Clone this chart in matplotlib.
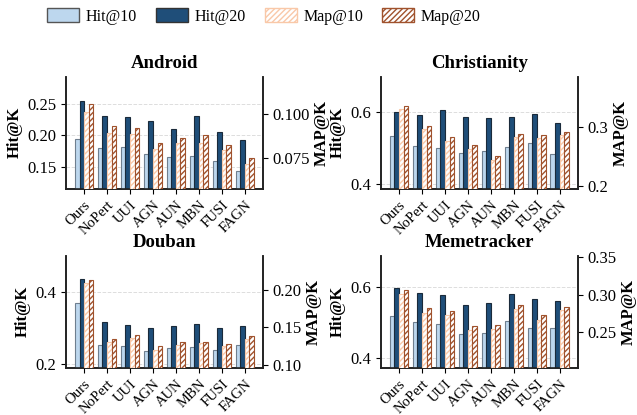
import numpy as np
import matplotlib
matplotlib.use("Agg")
import matplotlib.pyplot as plt
from matplotlib.patches import Patch

plt.rcParams['font.family'] = ['Liberation Serif', 'DejaVu Serif']
plt.rcParams['hatch.linewidth'] = 1.0

methods = ["Ours", "NoPert", "UUI", "AGN", "AUN", "MBN", "FUSI", "FAGN"]
datasets = ["Android", "Christianity", "Douban", "Memetracker"]

# Hit@10, Hit@20, MAP@10, MAP@20 per dataset
hit10 = {
    "Android":      [0.194, 0.180, 0.181, 0.170, 0.165, 0.167, 0.159, 0.143],
    "Christianity": [0.535, 0.508, 0.500, 0.486, 0.494, 0.505, 0.514, 0.485],
    "Douban":       [0.369, 0.253, 0.250, 0.237, 0.244, 0.247, 0.240, 0.253],
    "Memetracker":  [0.519, 0.501, 0.495, 0.467, 0.470, 0.504, 0.486, 0.486],
}
hit20 = {
    "Android":      [0.256, 0.232, 0.230, 0.224, 0.210, 0.231, 0.205, 0.193],
    "Christianity": [0.602, 0.593, 0.608, 0.587, 0.584, 0.587, 0.597, 0.570],
    "Douban":       [0.435, 0.316, 0.307, 0.301, 0.306, 0.311, 0.299, 0.306],
    "Memetracker":  [0.597, 0.582, 0.576, 0.549, 0.555, 0.580, 0.565, 0.561],
}
map10 = {
    "Android":      [0.1017, 0.0896, 0.0890, 0.0800, 0.0837, 0.0837, 0.0796, 0.0717],
    "Christianity": [0.330, 0.296, 0.275, 0.262, 0.244, 0.282, 0.281, 0.285],
    "Douban":       [0.2095, 0.130, 0.1356, 0.1198, 0.1266, 0.1284, 0.1248, 0.1342],
    "Memetracker":  [0.3014, 0.2757, 0.2725, 0.2523, 0.2536, 0.2806, 0.2658, 0.2793],
}
map20 = {
    "Android":      [0.1058, 0.0933, 0.0923, 0.0837, 0.0865, 0.0883, 0.0825, 0.0750],
    "Christianity": [0.334, 0.301, 0.283, 0.269, 0.250, 0.288, 0.286, 0.291],
    "Douban":       [0.214, 0.1342, 0.1396, 0.1248, 0.1306, 0.1306, 0.1270, 0.1378],
    "Memetracker":  [0.3063, 0.2815, 0.2784, 0.2577, 0.2595, 0.2860, 0.2725, 0.2829],
}

c_hit10 = '#bdd7ee'
c_hit20 = '#1f4e79'
c_map10 = '#f9c8a8'
c_map20 = '#a0522d'

fig, axes = plt.subplots(2, 2, figsize=(6.37, 4.15), dpi=100)
fig.subplots_adjust(left=0.1036, right=0.907, top=0.815, bottom=0.114,
                    wspace=0.6, hspace=0.6)

x = np.arange(len(methods))
w = 0.2

for ax, name in zip(axes.flat, datasets):
    h10 = np.array(hit10[name]); h20 = np.array(hit20[name])
    m10 = np.array(map10[name]); m20 = np.array(map20[name])

    # Hit bars on the left axis, MAP bars on a twin right axis
    ax2 = ax.twinx()
    ax.bar(x - 1.5 * w, h10, w, color=c_hit10, edgecolor='#6f7f8f', linewidth=0.8, zorder=3)
    ax.bar(x - 0.5 * w, h20, w, color=c_hit20, edgecolor='#1a2a3a', linewidth=0.8, zorder=3)
    ax2.bar(x + 0.5 * w, m10, w, color='white', edgecolor=c_map10, hatch='//////', linewidth=0.8, zorder=3)
    ax2.bar(x + 1.5 * w, m20, w, color='white', edgecolor=c_map20, hatch='//////', linewidth=0.8, zorder=3)

    ax.set_ylim(min(h10.min(), h20.min()) * 0.8, max(h10.max(), h20.max()) * 1.15)
    ax2.set_ylim(min(m10.min(), m20.min()) * 0.8, max(m10.max(), m20.max()) * 1.15)

    ax.yaxis.grid(True, linestyle='--', color='#dddddd', linewidth=0.7, zorder=0)
    ax.set_axisbelow(True)

    ax.set_title(name, fontsize=13.5, fontweight='bold', pad=6)
    ax.set_ylabel("Hit@K", fontsize=12, fontweight='bold', labelpad=3)
    ax2.set_ylabel("MAP@K", fontsize=12, fontweight='bold', labelpad=3)
    ax.set_xticks(x)
    ax.set_xticklabels(methods, rotation=45, ha='right', rotation_mode='anchor', fontsize=10.6)
    ax.tick_params(axis='y', labelsize=12)
    ax2.tick_params(axis='y', labelsize=12)

    for a in (ax, ax2):
        a.spines['top'].set_visible(False)
        for s in ('left', 'right', 'bottom'):
            a.spines[s].set_linewidth(1.2)
            a.spines[s].set_color('#222222')

    if name == "Android":
        ax.set_yticks([0.15, 0.20, 0.25])
        ax2.set_yticks([0.075, 0.100])
    elif name == "Christianity":
        ax.set_yticks([0.4, 0.6])
        ax2.set_yticks([0.2, 0.3])
    elif name == "Douban":
        ax.set_yticks([0.2, 0.4])
        ax2.set_yticks([0.10, 0.15, 0.20])
        ax2.set_yticklabels(["0.10", "0.15", "0.20"])
    else:
        ax.set_yticks([0.4, 0.6])
        ax2.set_yticks([0.25, 0.30, 0.35])
        ax2.set_yticklabels(["0.25", "0.30", "0.35"])

handles = [
    Patch(facecolor=c_hit10, edgecolor='#555555', label='Hit@10'),
    Patch(facecolor=c_hit20, edgecolor='#333333', label='Hit@20'),
    Patch(facecolor='white', edgecolor=c_map10, hatch='//////', label='Map@10'),
    Patch(facecolor='white', edgecolor=c_map20, hatch='//////', label='Map@20'),
]
fig.legend(handles=handles, loc='center', bbox_to_anchor=(264 / 637, 1 - 16.5 / 415),
           ncol=4, frameon=False, fontsize=11.5, handlelength=2.0, handleheight=0.9,
           handletextpad=0.4, columnspacing=1.2)

fig.savefig("out.png", dpi=100)
